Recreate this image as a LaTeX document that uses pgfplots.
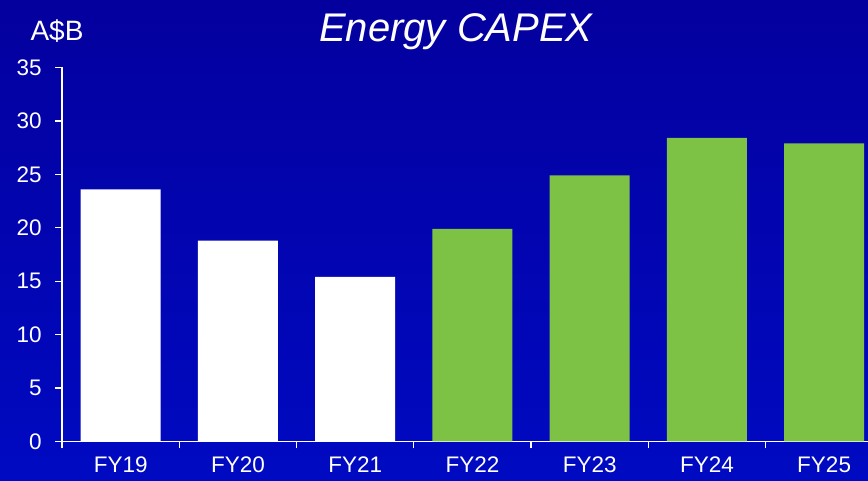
\documentclass[border=0pt]{standalone}
\usepackage{pgfplots}
\pgfplotsset{compat=1.18}
\usepackage{fontspec}
\setmainfont{Liberation Sans}

\definecolor{bgtop}{RGB}{4,0,158}
\definecolor{bgbot}{RGB}{0,10,194}
\definecolor{barwhite}{RGB}{255,255,255}
\definecolor{bargreen}{RGB}{125,193,69}

\begin{document}
\begin{tikzpicture}[x=1pt,y=1pt]
  % slide background
  \shade[top color=bgtop, bottom color=bgbot] (0,0) rectangle (868,481);
  \useasboundingbox (0,0) rectangle (868,481);

  \node[text=white, font=\fontsize{40}{48}\selectfont\itshape] at (456,449) {Energy CAPEX};
  \node[text=white, font=\fontsize{28}{32}\selectfont] at (57,450) {A\$B};

  \begin{axis}[
    at={(53,37)}, anchor=south west,
    scale only axis, width=807pt, height=374pt,
    xmin=-0.5, xmax=6.384, ymin=0, ymax=35,
    axis x line=bottom, axis y line=left,
    axis line style={white, line width=1.3pt, -},
    ybar, bar width=80pt,
    ytick={0,5,...,35},
    xtick={-0.5,0.5,...,5.5}, xticklabels={},
    extra x ticks={0,1,2,3,4,5,6},
    extra x tick labels={FY19,FY20,FY21,FY22,FY23,FY24,FY25},
    extra x tick style={major tick length=0pt},
    tick align=outside, major tick length=7pt,
    tick style={white, line width=1.3pt},
    /pgf/number format/assume math mode=true,
    tick label style={text=white, font=\fontsize{22.5}{26}\selectfont},
    yticklabel style={xshift=-10pt},
    xticklabel style={inner sep=0pt, text depth=0pt, yshift=-15pt},
    clip=false,
  ]
    \addplot[fill=barwhite, draw=none, bar shift=0pt] coordinates {
      (0,23.6) (1,18.8) (2,15.4)
    };
    \addplot[fill=bargreen, draw=none, bar shift=0pt] coordinates {
      (3,19.9) (4,24.9) (5,28.4) (6,27.9)
    };
  \end{axis}
\end{tikzpicture}
\end{document}
